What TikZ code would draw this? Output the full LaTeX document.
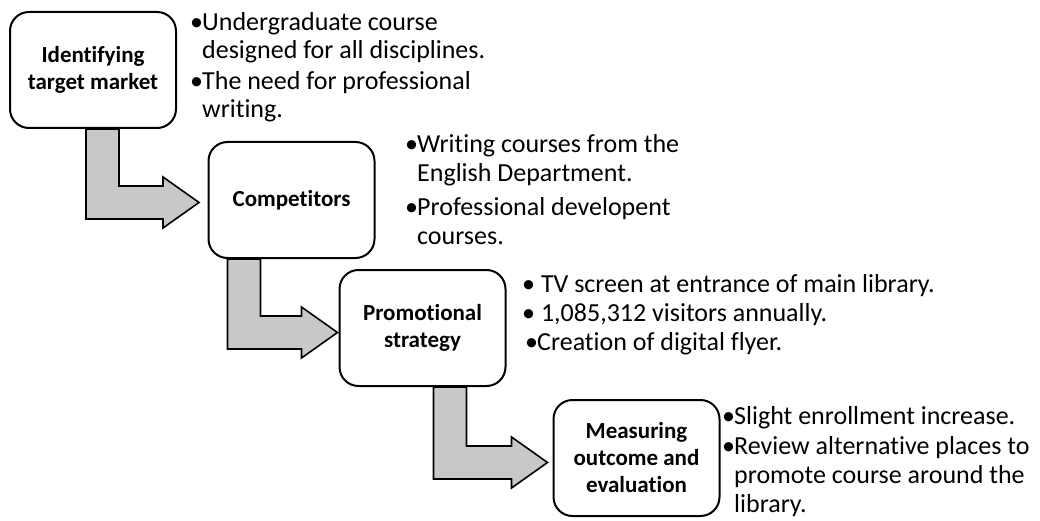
\documentclass[tikz,border=0pt]{standalone}
\usepackage{fontspec}
\setmainfont{Carlito}[Ligatures={NoCommon,NoContextual}]
\usetikzlibrary{backgrounds}
\definecolor{arrowgray}{HTML}{C8C8C8}
% bullet with a fixed hanging indent
\newcommand{\bul}{\makebox[12pt][l]{•}}
% bent block arrow: #1 start on box bottom, #2 drop to shaft top, #3 length to tip
\newcommand{\bentarrow}[3]{%
  \draw[bendarrow] (#1) -- ++(0,{#2+33}) -- ++({#3-36},0) -- ++(0,9)
    -- ++(36,-25.5) -- ++(-36,-25.5) -- ++(0,9) -- ++({69-#3},0) -- ++(0,{-#2}) -- cycle;}
\begin{document}
\begin{tikzpicture}[x=1pt,y=-1pt,
  stage/.style={draw=black, line width=2pt, rounded corners=19pt, fill=white,
    minimum width=166pt, minimum height=116pt, inner sep=0pt, align=center,
    font=\fontsize{23}{27}\selectfont\bfseries},
  bendarrow/.style={draw=black, line width=1.6pt, fill=arrowgray, line join=miter},
  item/.style={font=\fontsize{26}{29}\selectfont, anchor=base west, inner sep=0pt},
]
\useasboundingbox (0,0) rectangle (1040,521);

% process stages
\node[stage] (b1) at (93,70)   {Identifying\\target market};
\node[stage] (b2) at (291.5,200) {Competitors};
\node[stage] (b3) at (422.5,328) {Promotional\\strategy};
\node[stage] (b4) at (636.5,458) {Measuring\\outcome and\\evaluation};

% bent arrows leading from one stage to the next
\begin{scope}[on background layer]
  \coordinate (a1) at ([xshift=77pt]b1.south west);
  \coordinate (a2) at ([xshift=20pt]b2.south west);
  \coordinate (a3) at ([xshift=95pt]b3.south west);
  \bentarrow{a1}{57}{113}
  \bentarrow{a2}{57}{110}
  \bentarrow{a3}{59}{114}
\end{scope}

% notes beside each stage
\node[item] (t1a) at (190,31)  {\bul Undergraduate course};
\node[item] (t1b) at (202,59)  {designed for all disciplines.};
\node[item] (t1c) at (190,90)  {\bul The need for professional};
\node[item] (t1d) at (202,118) {writing.};

\node[item] (t2a) at (405,153) {\bul Writing courses from the};
\node[item] (t2b) at (417,182) {English Department.};
\node[item] (t2c) at (405,215) {\bul Professional developent};
\node[item] (t2d) at (417,244) {courses.};

\node[item] (t3a) at (522,292) {• TV screen at entrance of main library.};
\node[item] (t3b) at (522,321) {• 1,085,312 visitors annually.};
\node[item] (t3c) at (525,350) {\bul Creation of digital flyer.};

\node[item] (t4a) at (722,424) {\bul Slight enrollment increase.};
\node[item] (t4b) at (722,454) {\bul Review alternative places to};
\node[item] (t4c) at (734,483) {promote course around the};
\node[item] (t4d) at (734,512) {library.};
\end{tikzpicture}
\end{document}
